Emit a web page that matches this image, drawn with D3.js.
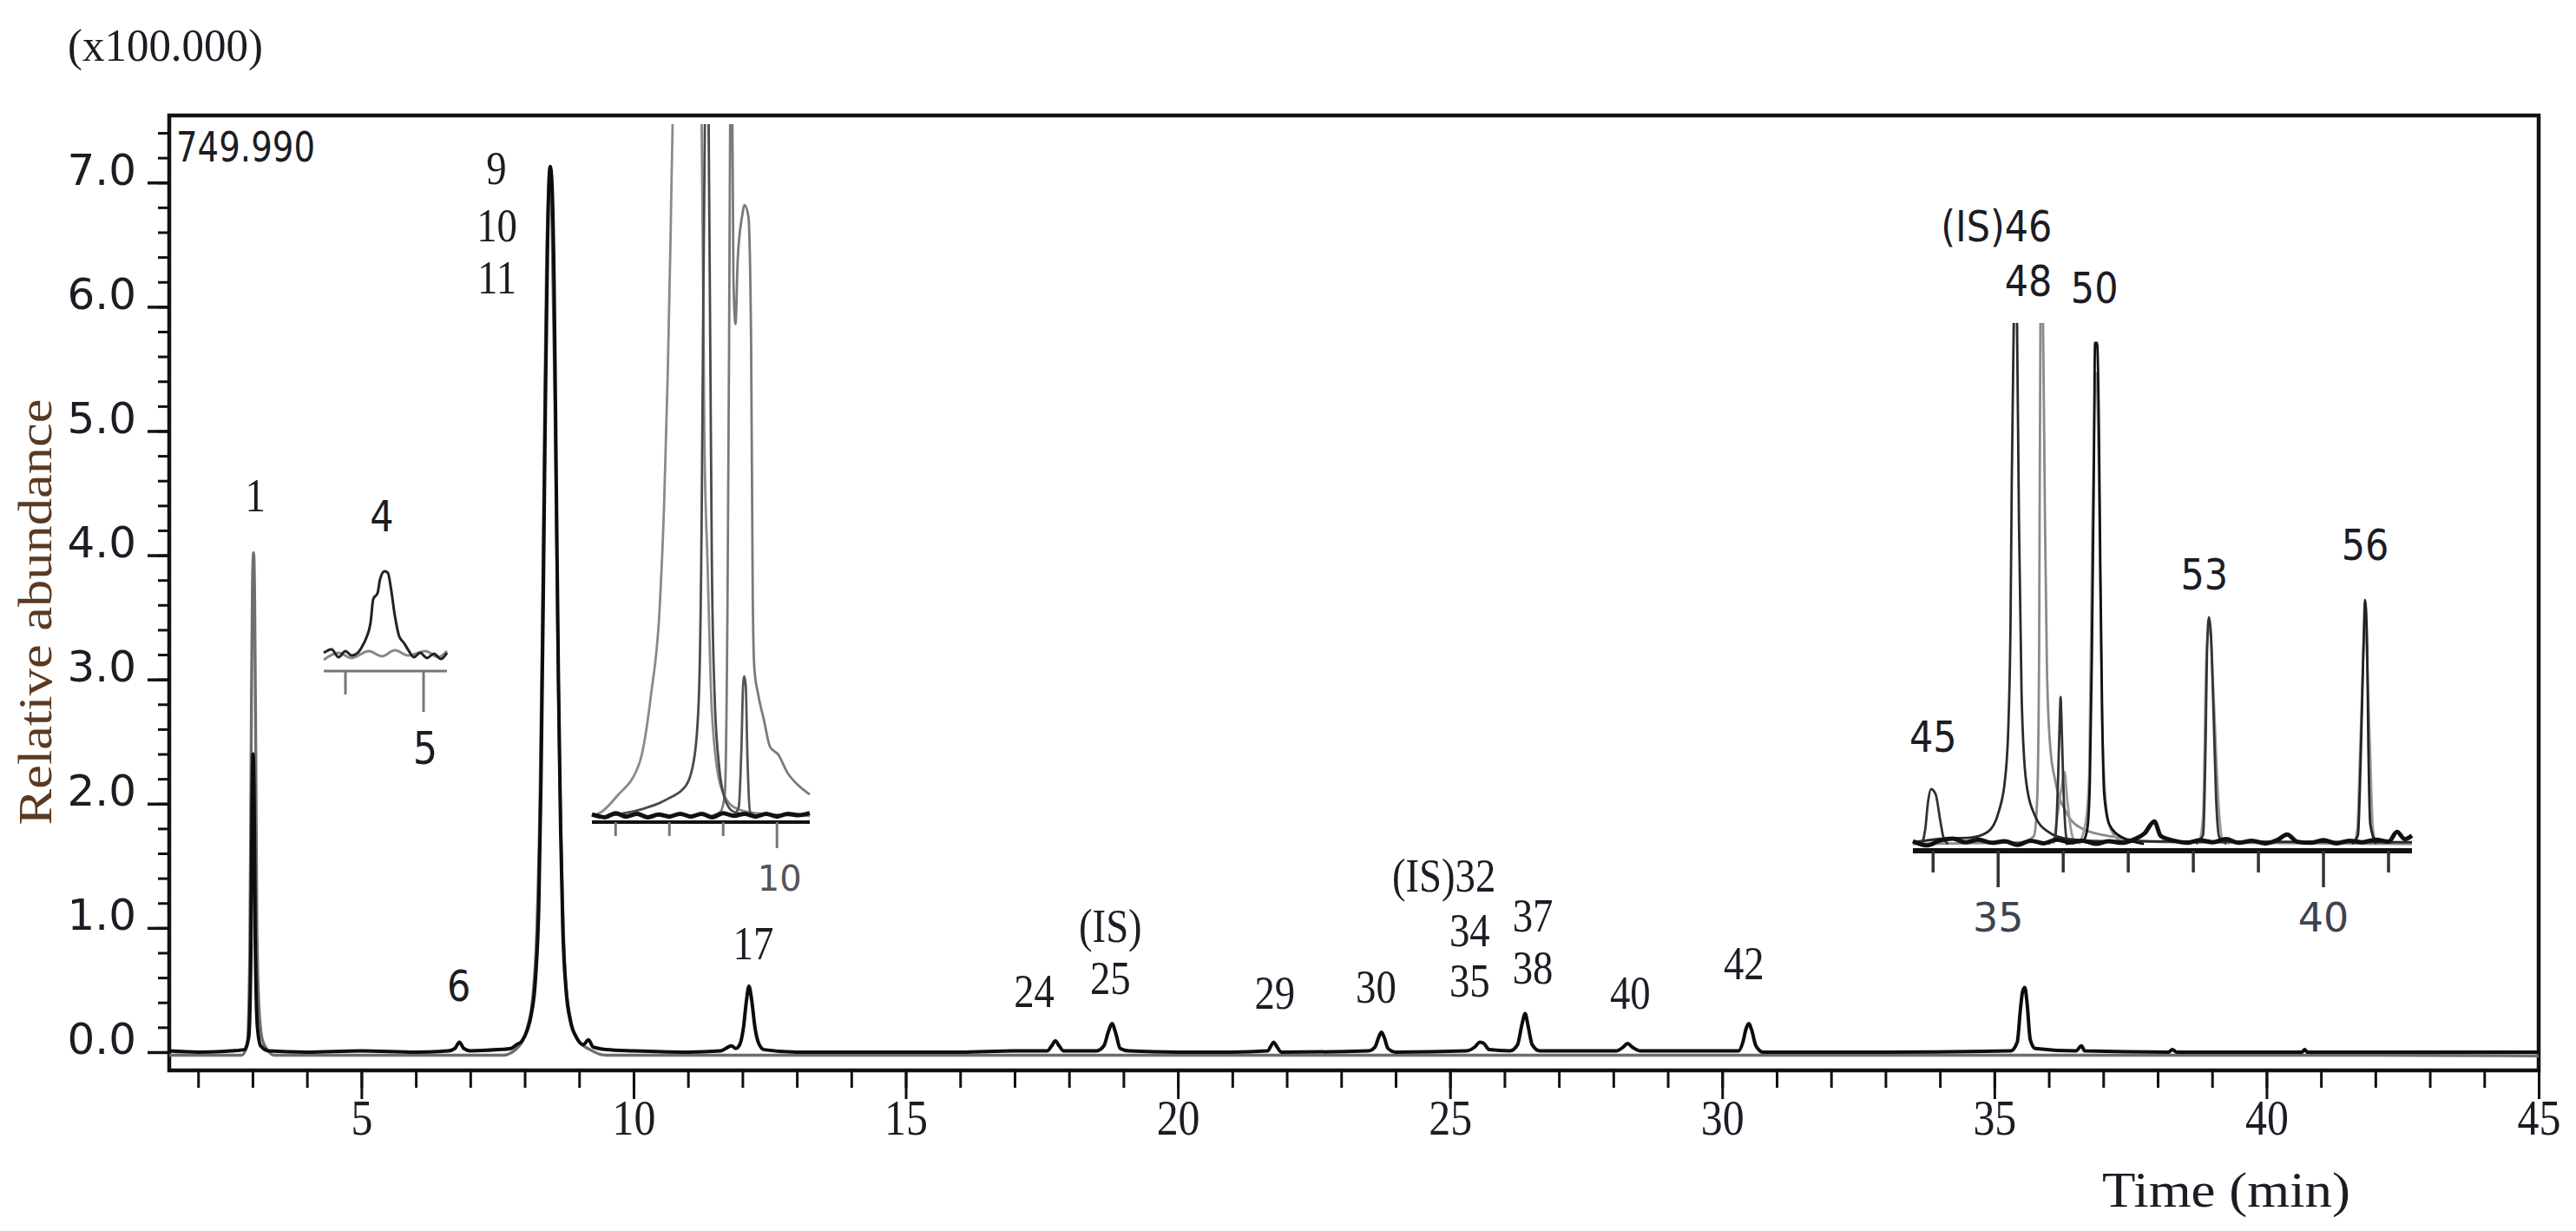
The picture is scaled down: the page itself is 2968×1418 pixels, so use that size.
<!DOCTYPE html>
<html><head><meta charset="utf-8">
<script src="https://cdn.jsdelivr.net/npm/d3@7/dist/d3.min.js"></script>
<style>html,body{margin:0;padding:0;background:#fff;}svg{display:block;}</style>
</head><body>
<svg id="chart" width="2968" height="1418"></svg>
<script>
// ---------------- DATA ----------------
const yTicksMajor = [0,1,2,3,4,5,6,7];
const yTickLabels = ["0.0","1.0","2.0","3.0","4.0","5.0","6.0","7.0"];
const xTicksMajor = [5,10,15,20,25,30,35,40,45];
const xTickLabels = ["5","10","15","20","25","30","35","40","45"];

// main trace (black) time (min) vs abundance (x100,000)
const mainBlack = [[1.47,0.01],[2.0,0.0],[2.6,0.01],[2.85,0.02],[2.93,0.12],[2.97,0.8],[2.99,1.9],[3.01,2.4],[3.03,2.0],[3.05,0.9],[3.09,0.2],[3.15,0.05],[3.3,0.01],[4.0,0.0],[5.0,0.01],[6.0,0.0],[6.6,0.01],[6.72,0.03],[6.8,0.08],[6.88,0.03],[7.0,0.01],[7.5,0.02],[7.75,0.03],[7.85,0.06],[7.95,0.09],[8.05,0.18],[8.12,0.3],[8.2,0.6],[8.26,1.2],[8.3,2.2],[8.34,3.6],[8.38,5.2],[8.42,6.5],[8.45,7.05],[8.47,7.13],[8.5,7.0],[8.54,6.2],[8.58,4.6],[8.62,3.0],[8.66,1.8],[8.7,1.0],[8.76,0.5],[8.84,0.25],[8.95,0.12],[9.08,0.06],[9.17,0.1],[9.26,0.04],[9.5,0.02],[10,0.01],[11,0.0],[11.6,0.01],[11.8,0.05],[11.88,0.03],[11.95,0.06],[12.02,0.2],[12.07,0.4],[12.12,0.53],[12.17,0.42],[12.23,0.2],[12.3,0.07],[12.4,0.02],[13,0.0],[14,0.0],[15,0.0],[16,0.0],[17,0.01],[17.6,0.01],[17.68,0.05],[17.75,0.09],[17.82,0.05],[17.9,0.01],[18.5,0.01],[18.64,0.05],[18.72,0.16],[18.79,0.23],[18.86,0.15],[18.94,0.03],[19.1,0.01],[20,0.0],[21,0.0],[21.65,0.01],[21.71,0.05],[21.76,0.08],[21.81,0.05],[21.9,0.0],[23.5,0.01],[23.62,0.04],[23.69,0.12],[23.74,0.16],[23.79,0.12],[23.86,0.03],[24,0.0],[25.3,0.01],[25.45,0.04],[25.55,0.08],[25.62,0.07],[25.72,0.02],[26.1,0.01],[26.24,0.06],[26.32,0.22],[26.38,0.31],[26.43,0.22],[26.51,0.06],[26.65,0.01],[28.05,0.01],[28.18,0.04],[28.26,0.07],[28.35,0.04],[28.5,0.01],[30.3,0.01],[30.38,0.08],[30.44,0.19],[30.49,0.23],[30.54,0.18],[30.62,0.05],[30.75,0.0],[33,0.0],[35.3,0.01],[35.42,0.08],[35.48,0.35],[35.52,0.49],[35.56,0.52],[35.6,0.4],[35.66,0.1],[35.75,0.03],[36.5,0.01],[36.6,0.05],[36.66,0.01],[38.2,0.0],[38.27,0.02],[38.35,0.0],[40.65,0.0],[40.7,0.02],[40.75,0.0],[43,0.0],[45,0.0]];
// overlaid trace (grey)
const mainGrey = [[1.47,-0.025],[2.8,-0.025],[2.9,0.05],[2.95,0.8],[2.98,2.8],[3.0,3.8],[3.02,4.02],[3.04,3.6],[3.06,2.4],[3.08,1.0],[3.12,0.35],[3.18,0.1],[3.27,0.02],[3.4,-0.025],[7.6,-0.025],[7.9,0.05],[8.05,0.2],[8.15,0.45],[8.22,0.95],[8.28,2.0],[8.32,3.3],[8.36,4.9],[8.4,6.3],[8.44,6.95],[8.46,7.05],[8.5,6.7],[8.55,5.4],[8.6,3.6],[8.64,2.3],[8.69,1.3],[8.75,0.6],[8.85,0.25],[8.97,0.1],[9.2,0.02],[9.5,-0.025],[42,-0.025],[45,-0.03]];

const mainLabels = [
  ["1",3.05,4.35],["9",7.48,6.99],["10",7.49,6.53],["11",7.49,6.11],["17",12.2,0.75],
  ["24",17.36,0.36],["(IS)",18.76,0.89],["25",18.76,0.47],["29",21.78,0.35],["30",23.64,0.40],
  ["34",25.36,0.85],["35",25.36,0.45],["37",26.52,0.97],["38",26.52,0.55],["40",28.31,0.35],["42",30.40,0.59]
];
const mainLabelsEnd = [["(IS)32",25.84,1.29]];
const mainLabelsSans = [["6",6.79,0.41]];

// inset A (peak 4 / 5)
const insetATicks = [4.5,5];
const insetATickLabels = ["","5"];
const insetABlack = [[4.361,1.9],[4.411,4.5],[4.456,-1.3],[4.5,3.2],[4.539,0],[4.578,1.9],[4.606,6.5],[4.633,12.9],[4.661,24.5],[4.678,41.9],[4.706,46.5],[4.722,56.8],[4.75,62.6],[4.772,61.3],[4.789,51.6],[4.817,29],[4.844,14.2],[4.872,9.7],[4.9,4.5],[4.939,-1.3],[4.978,1.9],[5.022,-1.9],[5.067,1.3],[5.111,-2.6],[5.15,1.9]];
const insetAGrey = [[4.361,-3.2],[4.456,1.9],[4.539,-1.9],[4.65,3.2],[4.733,-0.6],[4.817,3.9],[4.9,0],[5.011,3.2],[5.094,-1.3],[5.15,3.2]];
const insetALabels = [["4",4.733,92.3]];

// inset B (peaks 9,10,11)
const insetBTicks = [7,8,9,10];
const insetBTickLabels = ["","","","10"];
const insetBTraceA = [[6.56,0],[6.74,0.6],[7.02,2.8],[7.45,7.8],[7.66,17.6],[7.82,30.1],[7.9,44.5],[7.97,64],[8.02,82.8],[8.06,100],[8.3,135],[8.6,100],[8.65,55.2],[8.71,36.4],[8.79,15.1],[8.95,4.4],[9.19,1.3],[9.6,0.4],[10.61,0]];
const insetBTraceB = [[6.85,0],[7.5,1],[7.98,2.5],[8.31,4.4],[8.47,8.8],[8.55,17.6],[8.6,42.7],[8.63,74],[8.66,100],[8.69,125],[8.73,100],[8.76,67.8],[8.79,36.4],[8.84,17.6],[8.92,7.5],[9.03,2.5],[9.19,0.6],[9.6,0]];
const insetBTraceC = [[8.79,0],[8.95,0.6],[9.03,3.1],[9.08,30.1],[9.11,67.8],[9.13,100],[9.16,112],[9.19,77.8],[9.23,71.1],[9.27,80.3],[9.35,86.6],[9.40,88.3],[9.47,86.6],[9.52,67.8],[9.55,31.4],[9.58,21.3],[9.65,17.6],[9.76,13.8],[9.87,10],[10.03,8.8],[10.19,6.3],[10.40,4.4],[10.61,3.1]];
const insetBTraceD = [[9.19,0],[9.29,1.3],[9.34,10],[9.37,18.8],[9.39,20.2],[9.42,18.8],[9.45,8.8],[9.5,0.6],[9.6,0]];
const insetBNoise = [[6.56,0.2],[6.8,-0.2],[7.0,0.4],[7.2,-0.1],[7.4,0.3],[7.6,-0.2],[7.8,0.2],[8.0,-0.1],[8.2,0.3],[8.4,-0.1],[8.6,0.3],[8.8,-0.2],[9.0,0.4],[9.2,0.0],[9.4,0.3],[9.6,-0.1],[9.8,0.3],[10.0,-0.1],[10.2,0.3],[10.4,0.1],[10.61,0.4]];

// inset C (peaks 45-56)
const insetCTicks = [34,35,36,37,38,39,40,41];
const insetCTickLabels = ["","35","","","","","40",""];
const insetC46 = [[33.69,0.3],[34.17,1],[34.57,1.2],[34.84,2.3],[35.01,6.2],[35.11,12.8],[35.16,23.7],[35.19,42],[35.21,70.3],[35.24,100],[35.265,112],[35.29,100],[35.32,62],[35.36,28.7],[35.43,12],[35.57,5.3],[35.77,2.3],[36.04,1],[36.57,0.5],[41.36,0.3]];
const insetC48 = [[33.69,0],[35.37,0.3],[35.55,1.5],[35.6,8.7],[35.63,37],[35.65,100],[35.67,108.7],[35.69,100],[35.72,62],[35.75,33.7],[35.8,18.7],[35.88,12],[36.04,6.2],[36.31,2.8],[36.84,1.2],[37.64,0.3],[41.36,0]];
const insetCSmall = [[35.77,0],[35.88,1.2],[35.92,12],[35.95,25.3],[35.96,28.2],[35.97,25.3],[36.0,12],[36.05,1.2],[36.17,0]];
const insetCShoulder = [[35.85,0],[35.91,5.3],[35.99,12],[36.02,13.8],[36.06,8.7],[36.13,2],[36.2,0]];
const insetC50 = [[36.04,0],[36.31,0.7],[36.37,2.8],[36.41,12],[36.44,35.3],[36.47,70.3],[36.49,96.2],[36.52,96.2],[36.55,78.7],[36.57,53.7],[36.6,23.7],[36.63,9.5],[36.71,3.7],[36.91,1.2],[37.24,0]];
const insetC50Grey = [[36.24,0],[36.35,4.5],[36.4,13.7],[36.45,62],[36.51,90.3],[36.55,68.7],[36.59,28.7],[36.65,8.7],[36.73,2.8],[36.91,0.3]];
const insetC53 = [[38.04,0],[38.15,1.7],[38.19,20.3],[38.21,37],[38.24,43.5],[38.27,40.3],[38.31,25.3],[38.35,8.7],[38.4,1.2],[38.51,0]];
const insetC53Grey = [[38.09,0],[38.15,5.3],[38.2,35.3],[38.25,42],[38.31,28.7],[38.39,7],[38.45,0.7],[38.55,0]];
const insetC56 = [[40.44,0],[40.53,1.7],[40.57,15.3],[40.61,35.3],[40.64,46.8],[40.67,38.7],[40.69,18.7],[40.72,3.7],[40.81,0]];
const insetC56Grey = [[40.47,0],[40.52,2.8],[40.57,20.3],[40.64,42],[40.71,20.3],[40.76,2.8],[40.81,0]];
const insetC45 = [[33.83,0],[33.88,2.8],[33.92,7.8],[33.97,10.5],[34.04,9.5],[34.11,4.5],[34.16,1.2],[34.23,0]];
const insetCNoise = [[33.69,0.5],[33.9,-0.3],[34.1,0.6],[34.3,1.0],[34.5,0.3],[34.7,0.8],[34.9,0.2],[35.1,0.5],[35.3,-0.2],[35.5,0.6],[35.7,0.1],[35.9,0.8],[36.1,0.3],[36.3,0.6],[36.5,0.0],[36.7,0.5],[36.9,0.2],[37.1,0.9],[37.25,2.0],[37.4,4.3],[37.5,1.5],[37.7,0.6],[37.9,0.2],[38.1,0.7],[38.3,0.3],[38.5,0.9],[38.7,0.2],[38.9,0.6],[39.1,0.1],[39.3,0.8],[39.44,1.8],[39.6,0.4],[39.8,0.2],[40.0,0.7],[40.2,0.1],[40.4,0.6],[40.6,0.3],[40.8,0.8],[41.0,0.4],[41.13,2.3],[41.25,0.9],[41.36,1.6]];
const insetCLabels = [["45",34.0,17.7,"middle"],["(IS)46",35.83,115.7,"end"],["48",35.83,105.2,"end"],["50",36.48,103.8,"middle"],["53",38.17,48.8,"middle"],["56",40.64,54.5,"middle"]];

// ---------------- DRAW ----------------
const svg = d3.select("#chart");
const SERIF = "'Liberation Serif','Times New Roman',serif";
const SANS = "'DejaVu Sans',Verdana,sans-serif";
const TXT = "#1c1c24";

function label(g, s, x, y, opt) {
  const t = g.append("text").text(s)
    .attr("transform", `translate(${x},${y}) scale(${opt.sx||1},1)`)
    .attr("text-anchor", opt.anchor||"middle")
    .style("font-family", opt.font||SERIF)
    .style("font-size", (opt.size||54)+"px")
    .attr("fill", opt.color||TXT);
  if (opt.len) t.attr("textLength", opt.len).attr("lengthAdjust","spacingAndGlyphs");
  return t;
}

const x = d3.scaleLinear().domain([1.47,45]).range([195,2925]);
const y = d3.scaleLinear().domain([-0.147,7.54]).range([1233,133]);

// axes
const yMinor = d3.range(0, 7.41, 0.2);
svg.append("g").attr("transform","translate(195,0)")
  .call(d3.axisLeft(y).tickValues(yMinor).tickSize(13).tickFormat(""))
  .call(g=>{g.select(".domain").remove(); g.selectAll("line").attr("stroke","#111").attr("stroke-width",3);});
const gy = svg.append("g").attr("transform","translate(195,0)")
  .call(d3.axisLeft(y).tickValues(yTicksMajor).tickSize(25).tickPadding(13).tickFormat((d,i)=>yTickLabels[i]))
  .call(g=>{g.select(".domain").remove(); g.selectAll("line").attr("stroke","#111").attr("stroke-width",3.5);});
gy.selectAll("text").attr("dy","0.04em").style("font-family",SANS).style("font-size","50px").attr("fill",TXT);

const xMinor = d3.range(2,45,1);
svg.append("g").attr("transform","translate(0,1233)")
  .call(d3.axisBottom(x).tickValues(xMinor).tickSize(20).tickFormat(""))
  .call(g=>{g.select(".domain").remove(); g.selectAll("line").attr("stroke","#111").attr("stroke-width",3);});
const gx = svg.append("g").attr("transform","translate(0,1233)")
  .call(d3.axisBottom(x).tickValues(xTicksMajor).tickSize(33).tickFormat((d,i)=>xTickLabels[i]))
  .call(g=>{g.select(".domain").remove(); g.selectAll("line").attr("stroke","#111").attr("stroke-width",3);});
gx.selectAll("text").attr("y",74).attr("dy",0).attr("transform","scale(0.86,1)")
  .style("font-family",SERIF).style("font-size","58px").attr("fill",TXT);

// frame
svg.append("rect").attr("x",195).attr("y",133).attr("width",2730).attr("height",1100)
  .attr("fill","none").attr("stroke","#111").attr("stroke-width",4.5);

// main traces
const lineMain = d3.line().x(d=>x(d[0])).y(d=>y(d[1])).curve(d3.curveMonotoneX);
svg.append("path").datum(mainGrey).attr("d",lineMain).attr("fill","none").attr("stroke","#6e6e6e").attr("stroke-width",3.4);
svg.append("path").datum(mainBlack).attr("d",lineMain).attr("fill","none").attr("stroke","#0d0d0d").attr("stroke-width",4);

// main labels
mainLabels.forEach(d=>label(svg,d[0],x(d[1]),y(d[2]),{font:SERIF,size:55,sx:0.85}));
mainLabelsEnd.forEach(d=>label(svg,d[0],x(d[1]),y(d[2]),{font:SERIF,size:55,sx:0.85,anchor:"end"}));
mainLabelsSans.forEach(d=>label(svg,d[0],x(d[1]),y(d[2]),{font:SANS,size:50,sx:0.86}));

// texts
label(svg,"(x100.000)",78,70,{font:SERIF,size:52,anchor:"start",len:225});
label(svg,"749.990",203,186,{font:SANS,size:48,anchor:"start",len:160});
label(svg,"Time (min)",2422,1390,{font:SERIF,size:58,anchor:"start",len:286});
svg.append("text").text("Relative abundance")
  .attr("transform","translate(59,705) rotate(-90)")
  .attr("text-anchor","middle").style("font-family",SERIF).style("font-size","54px")
  .attr("textLength",491).attr("lengthAdjust","spacingAndGlyphs").attr("fill","#5a3a22");

// ---------- inset A ----------
const xA = d3.scaleLinear().domain([4.361,5.15]).range([373,515]);
const yA = d3.scaleLinear().domain([-11.6,100]).range([773,600]);
const gA = svg.append("g");
const lineA = d3.line().x(d=>xA(d[0])).y(d=>yA(d[1])).curve(d3.curveMonotoneX);
gA.append("line").attr("x1",373).attr("x2",515).attr("y1",yA(-11.6)).attr("y2",yA(-11.6)).attr("stroke","#777").attr("stroke-width",3);
insetATicks.forEach((t,i)=>{
  gA.append("line").attr("x1",xA(t)).attr("x2",xA(t)).attr("y1",773).attr("y2",insetATickLabels[i]?820:800).attr("stroke","#777").attr("stroke-width",3);
  if(insetATickLabels[i]) label(gA,insetATickLabels[i],xA(t)+2,880,{font:SANS,size:52,sx:0.86});
});
gA.append("path").datum(insetAGrey).attr("d",lineA).attr("fill","none").attr("stroke","#888").attr("stroke-width",3);
gA.append("path").datum(insetABlack).attr("d",lineA).attr("fill","none").attr("stroke","#222").attr("stroke-width",3);
insetALabels.forEach(d=>label(gA,d[0],xA(d[1]),yA(d[2]),{font:SANS,size:50,sx:0.86}));

// ---------- inset B ----------
const xB = d3.scaleLinear().domain([6.56,10.61]).range([682,933]);
const yB = d3.scaleLinear().domain([-0.9,100]).range([947,143]);
const gB = svg.append("g");
svg.append("clipPath").attr("id","clipB").append("rect").attr("x",670).attr("y",143).attr("width",280).attr("height",830);
const lineB = d3.line().x(d=>xB(d[0])).y(d=>yB(d[1])).curve(d3.curveMonotoneX);
gB.append("line").attr("x1",682).attr("x2",933).attr("y1",947).attr("y2",947).attr("stroke","#111").attr("stroke-width",4);
insetBTicks.forEach((t,i)=>{
  gB.append("line").attr("x1",xB(t)).attr("x2",xB(t)).attr("y1",947).attr("y2",insetBTickLabels[i]?977:963).attr("stroke","#777").attr("stroke-width",3);
  if(insetBTickLabels[i]) label(gB,insetBTickLabels[i],xB(t)+3,1026,{font:SANS,size:40,color:"#555"});
});
const gBc = gB.append("g").attr("clip-path","url(#clipB)");
gBc.append("path").datum(insetBTraceA).attr("d",lineB).attr("fill","none").attr("stroke","#8a8a8a").attr("stroke-width",2.8);
gBc.append("path").datum(insetBTraceC).attr("d",lineB).attr("fill","none").attr("stroke","#7a7a7a").attr("stroke-width",2.8);
gBc.append("path").datum(insetBTraceB).attr("d",lineB).attr("fill","none").attr("stroke","#4a4a4a").attr("stroke-width",2.8);
gBc.append("path").datum(insetBTraceD).attr("d",lineB).attr("fill","none").attr("stroke","#555").attr("stroke-width",2.8);
gBc.append("path").datum(insetBNoise).attr("d",lineB).attr("fill","none").attr("stroke","#111").attr("stroke-width",5);

// ---------- inset C ----------
const xC = d3.scaleLinear().domain([33.69,41.36]).range([2204,2779]);
const yC = d3.scaleLinear().domain([-1.33,100]).range([980,372]);
const gC = svg.append("g");
svg.append("clipPath").attr("id","clipC").append("rect").attr("x",2195).attr("y",372).attr("width",600).attr("height",620);
const lineC = d3.line().x(d=>xC(d[0])).y(d=>yC(d[1])).curve(d3.curveMonotoneX);
const gCc = gC.append("g").attr("clip-path","url(#clipC)");
[[insetC48,"#8a8a8a"],[insetCShoulder,"#999"],[insetC50Grey,"#9a9a9a"],[insetC53Grey,"#999"],[insetC56Grey,"#999"],
 [insetC46,"#2a2a2a"],[insetCSmall,"#333"],[insetC50,"#111"],[insetC53,"#333"],[insetC56,"#222"],[insetC45,"#333"]]
 .forEach(p=>gCc.append("path").datum(p[0]).attr("d",lineC).attr("fill","none").attr("stroke",p[1]).attr("stroke-width",2.8));
gCc.append("path").datum(insetCNoise).attr("d",lineC).attr("fill","none").attr("stroke","#111").attr("stroke-width",5);
gC.append("line").attr("x1",2204).attr("x2",2779).attr("y1",980).attr("y2",980).attr("stroke","#111").attr("stroke-width",6);
insetCTicks.forEach((t,i)=>{
  gC.append("line").attr("x1",xC(t)).attr("x2",xC(t)).attr("y1",980).attr("y2",insetCTickLabels[i]?1022:1005).attr("stroke","#333").attr("stroke-width",3.5);
  if(insetCTickLabels[i]) label(gC,insetCTickLabels[i],xC(t),1073,{font:SANS,size:46,color:"#3d4252"});
});
insetCLabels.forEach(d=>label(gC,d[0],xC(d[1]),yC(d[2]),{font:SANS,size:50,sx:0.86,anchor:d[3]}));
</script>
</body></html>
